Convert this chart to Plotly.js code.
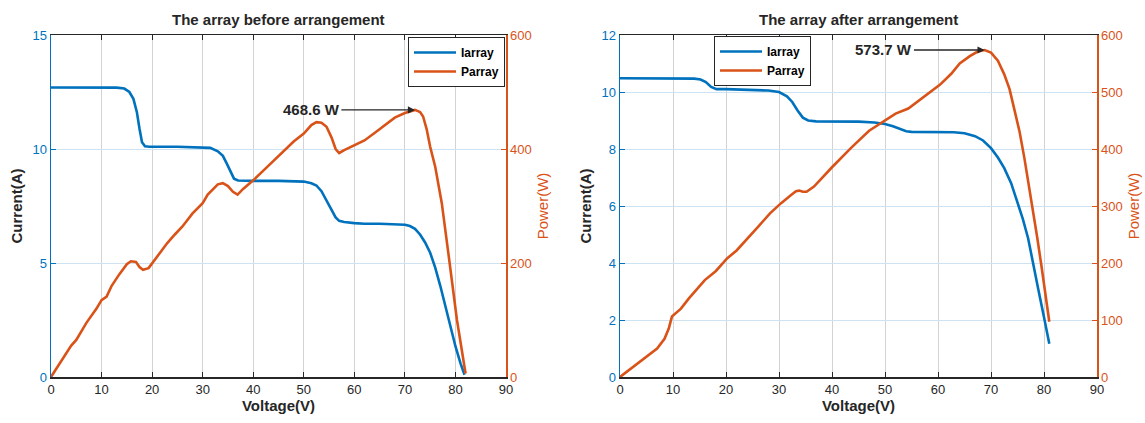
<!DOCTYPE html>
<html>
<head>
<meta charset="utf-8">
<script src="https://cdn.plot.ly/plotly-3.0.1.min.js"></script>
<style>html,body{margin:0;padding:0;background:#fff;}#chart{width:1145px;height:423px;}</style>
</head>
<body>
<div id="chart"></div>
<script>
// ---- Data: "The array before arrangement" ----
const vI1 = [0, 5, 10, 13, 14.5, 15.5, 16.3, 17, 17.5, 18, 18.6, 19.5, 25, 30, 31.5, 33, 34, 34.8, 35.5, 36.2, 37, 40, 45, 50, 51.5, 52.5, 53.5, 54.5, 55.5, 56.3, 57, 58, 60, 62, 65, 68, 70, 71, 72, 73, 74, 75, 76, 77, 78, 79, 80, 81, 81.8];
const I1  = [12.7, 12.7, 12.7, 12.69, 12.65, 12.5, 12.2, 11.6, 10.9, 10.3, 10.12, 10.1, 10.1, 10.08, 10.05, 9.9, 9.7, 9.35, 9.0, 8.7, 8.62, 8.6, 8.6, 8.57, 8.5, 8.4, 8.15, 7.75, 7.3, 7.0, 6.85, 6.8, 6.75, 6.72, 6.72, 6.7, 6.68, 6.62, 6.5, 6.25, 5.9, 5.45, 4.8, 4.0, 3.1, 2.2, 1.35, 0.6, 0.1];
const vP1 = [0, 2, 4, 5, 7, 9, 10, 11, 12, 13.5, 15, 15.8, 16.8, 17.5, 18.2, 19.3, 21, 23, 24.5, 26, 28, 30, 31, 32, 33, 34, 35, 36, 36.9, 38, 40, 42, 45, 48, 50, 51.5, 52.5, 53.5, 54.5, 55.5, 56.3, 57, 58, 60, 62, 64, 66, 68, 70, 72, 73, 73.6, 74.3, 75, 76, 77.3, 78.6, 80.3, 82];
const P1  = [0, 28, 55, 65, 95, 120, 135, 141, 160, 180, 198, 203, 202, 193, 188, 191, 212, 235, 250, 264, 287, 305, 320, 330, 338, 340, 335, 325, 320, 330, 345, 362, 387, 413, 427, 442, 447, 446, 439, 420, 400, 393, 398, 407, 415, 428, 442, 455, 463, 468.6, 465, 457, 435, 404, 369, 305, 217, 100, 6];
const peak1 = {v: 72, p: 468.6, label: "468.6 W", textV: 51.5};

// ---- Data: "The array after arrangement" ----
const vI2 = [0, 5, 10, 14, 15.2, 16.2, 17.2, 18.2, 20, 25, 28, 30, 31.5, 32.5, 33.5, 34.5, 35.5, 37, 40, 45, 48, 50, 51.5, 52.8, 54, 55, 60, 63, 65, 67, 68.5, 70, 71.3, 72.5, 73.8, 75, 76, 77, 78, 78.9, 80, 81];
const I2  = [10.48, 10.48, 10.48, 10.47, 10.44, 10.35, 10.18, 10.1, 10.1, 10.08, 10.05, 10.0, 9.85, 9.65, 9.35, 9.1, 9.0, 8.97, 8.97, 8.96, 8.93, 8.88, 8.8, 8.7, 8.62, 8.6, 8.6, 8.59, 8.55, 8.45, 8.3, 8.03, 7.7, 7.33, 6.8, 6.16, 5.55, 4.87, 4.0, 3.1, 2.1, 1.17];
const vP2 = [0, 2, 4, 6, 7, 8.4, 9.2, 9.8, 10.5, 11.5, 13, 14.3, 16, 18.1, 20.2, 22, 23, 24.4, 26, 28.3, 30.4, 32.4, 33.2, 33.8, 34.5, 35.2, 36.6, 40, 43.6, 47, 49.9, 52, 54.4, 56, 57.6, 60.4, 62.5, 64.1, 66, 67.5, 68.8, 70, 71.3, 72.5, 73.5, 74.4, 75.4, 76.3, 77.1, 77.9, 78.7, 79.5, 80.3, 81];
const P2  = [0, 14, 28, 42, 50, 67, 85, 106, 112, 120, 138, 152, 170, 186, 208, 222, 232, 246, 263, 287, 305, 320, 326, 327, 325, 325, 334, 368, 402, 432, 449, 462, 471, 482, 493, 513, 532, 550, 563, 571, 573.7, 569, 555, 531, 505, 472, 430, 384, 340, 296, 246, 196, 145, 97];
const peak2 = {v: 68.8, p: 573.7, label: "573.7 W", textV: 49.8};

const titles = ["The array before arrangement", "The array after arrangement"];
const seriesNames = ["Iarray", "Parray"];
const xTitle = "Voltage(V)", yTitleL = "Current(A)", yTitleR = "Power(W)";

// ---- Styling ----
const BLUE = "#0072BD", ORANGE = "#D95319", DARK = "#262626";
const FONT = "Liberation Sans Narrow, Liberation Sans, Arial, sans-serif";
const GRIDV = "#d3d3d3", GRIDH = "#cfe2f1";
const dom1 = [51/1145, 506/1145], dom2 = [620/1145, 1097/1145];
const ydom = [1-377/423, 1-35/423];

const traces = [
  {x: vI1, y: I1, name: seriesNames[0], xaxis: "x", yaxis: "y", legend: "legend", mode: "lines", line: {color: BLUE, width: 2.6}},
  {x: vP1, y: P1, name: seriesNames[1], xaxis: "x", yaxis: "y2", legend: "legend", mode: "lines", line: {color: ORANGE, width: 2.6}},
  {x: vI2, y: I2, name: seriesNames[0], xaxis: "x2", yaxis: "y3", legend: "legend2", mode: "lines", line: {color: BLUE, width: 2.6}},
  {x: vP2, y: P2, name: seriesNames[1], xaxis: "x2", yaxis: "y4", legend: "legend2", mode: "lines", line: {color: ORANGE, width: 2.6}}
];

function xax(domain, anchor) {
  return {domain: domain, anchor: anchor, range: [0, 90], tick0: 0, dtick: 10,
    showgrid: true, gridcolor: GRIDV, gridwidth: 1, zeroline: false,
    showline: true, linecolor: DARK, linewidth: 1.5, mirror: "ticks",
    ticks: "inside", ticklen: 5, tickcolor: DARK, tickfont: {size: 13, color: DARK, family: FONT},
    title: {text: "<b>" + xTitle + "</b>", font: {size: 15, color: DARK, family: FONT}, standoff: 4},
    fixedrange: true};
}
function yaxL(range, dtick, anchor) {
  return {domain: ydom, anchor: anchor, range: range, tick0: 0, dtick: dtick,
    showgrid: true, gridcolor: GRIDH, gridwidth: 1, zeroline: false,
    showline: true, linecolor: BLUE, linewidth: 1.5, ticks: "inside", ticklen: 5, tickcolor: BLUE,
    tickfont: {size: 13, color: BLUE, family: FONT},
    title: {text: "<b>" + yTitleL + "</b>", font: {size: 15, color: DARK, family: FONT}, standoff: 6},
    fixedrange: true};
}
function yaxR(range, dtick, anchor, over) {
  return {overlaying: over, side: "right", anchor: anchor, range: range, tick0: 0, dtick: dtick,
    showgrid: false, zeroline: false, showline: true, linecolor: ORANGE, linewidth: 1.5,
    ticks: "inside", ticklen: 5, tickcolor: ORANGE, tickfont: {size: 13, color: ORANGE, family: FONT},
    title: {text: yTitleR, font: {size: 15, color: ORANGE, family: FONT}, standoff: 6},
    fixedrange: true};
}
function legendAt(x, xanchor, y) {
  return {x: x, xanchor: xanchor, y: y, yanchor: "top", bgcolor: "#ffffff", bordercolor: DARK, borderwidth: 1,
    font: {size: 12, color: "#000000", family: "Liberation Sans Narrow, Liberation Sans, Arial", weight: 700}, itemwidth: 42, tracegroupgap: 0};
}
function peakAnn(pk, xr, yr) {
  return {x: pk.v, y: pk.p, xref: xr, yref: yr, ax: pk.textV, ay: pk.p, axref: xr, ayref: yr,
    text: "<b>" + pk.label + "</b>", font: {size: 15, color: DARK, family: FONT},
    showarrow: true, arrowhead: 2, arrowsize: 1.1, arrowwidth: 1.3, arrowcolor: DARK, standoff: 0, startstandoff: 0};
}
function titleAnn(text, dom) {
  return {x: (dom[0]+dom[1])/2, y: 1-20/423, xref: "paper", yref: "paper", xanchor: "center", yanchor: "middle",
    text: "<b>" + text + "</b>", showarrow: false, font: {size: 15, color: DARK, family: FONT}};
}

const layout = {
  width: 1145, height: 423, margin: {l: 0, r: 0, t: 0, b: 0},
  paper_bgcolor: "#ffffff", plot_bgcolor: "#ffffff",
  font: {family: FONT, size: 13, color: DARK},
  showlegend: true,
  xaxis: xax(dom1, "y"),
  yaxis: yaxL([0, 15], 5, "x"),
  yaxis2: yaxR([0, 600], 200, "x", "y"),
  xaxis2: xax(dom2, "y3"),
  yaxis3: yaxL([0, 12], 2, "x2"),
  yaxis4: yaxR([0, 600], 100, "x2", "y3"),
  legend: legendAt(505/1145, "right", 1-37/423),
  legend2: legendAt(714/1145, "left", 1-36/423),
  annotations: [titleAnn(titles[0], dom1), titleAnn(titles[1], dom2), peakAnn(peak1, "x", "y2"), peakAnn(peak2, "x2", "y4")]
};

Plotly.newPlot("chart", traces, layout, {displayModeBar: false, staticPlot: true});
</script>
</body>
</html>
